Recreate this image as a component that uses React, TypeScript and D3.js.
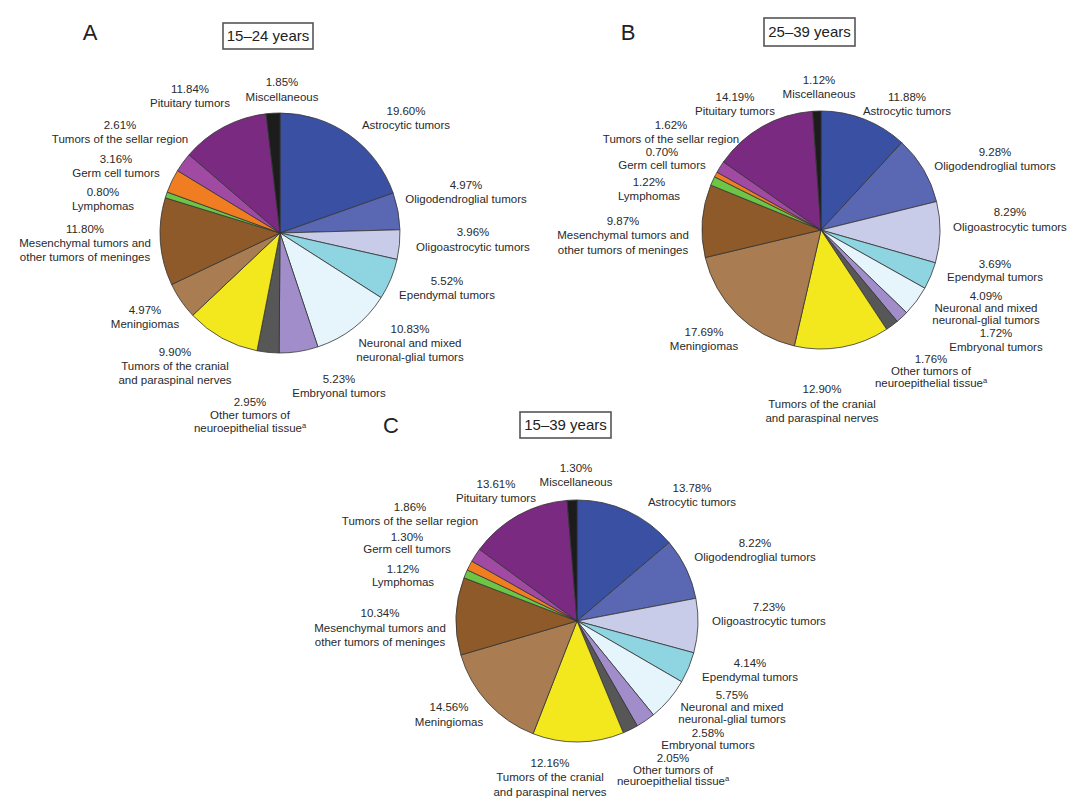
import React from "react";
import * as d3 from "d3";

// ---------- DATA ----------
const categories = [
  "Astrocytic tumors",
  "Oligodendroglial tumors",
  "Oligoastrocytic tumors",
  "Ependymal tumors",
  "Neuronal and mixed neuronal-glial tumors",
  "Embryonal tumors",
  "Other tumors of neuroepithelial tissue",
  "Tumors of the cranial and paraspinal nerves",
  "Meningiomas",
  "Mesenchymal tumors and other tumors of meninges",
  "Lymphomas",
  "Germ cell tumors",
  "Tumors of the sellar region",
  "Pituitary tumors",
  "Miscellaneous",
];

// label text lines per category (as printed under the percentage)
const labelLines: string[][] = [
  ["Astrocytic tumors"],
  ["Oligodendroglial tumors"],
  ["Oligoastrocytic tumors"],
  ["Ependymal tumors"],
  ["Neuronal and mixed", "neuronal-glial tumors"],
  ["Embryonal tumors"],
  ["Other tumors of", "neuroepithelial tissue^a"],
  ["Tumors of the cranial", "and paraspinal nerves"],
  ["Meningiomas"],
  ["Mesenchymal tumors and", "other tumors of meninges"],
  ["Lymphomas"],
  ["Germ cell tumors"],
  ["Tumors of the sellar region"],
  ["Pituitary tumors"],
  ["Miscellaneous"],
];

const values15to24 = [19.6, 4.97, 3.96, 5.52, 10.83, 5.23, 2.95, 9.9, 4.97, 11.8, 0.8, 3.16, 2.61, 11.84, 1.85];
const values25to39 = [11.88, 9.28, 8.29, 3.69, 4.09, 1.72, 1.76, 12.9, 17.69, 9.87, 1.22, 0.7, 1.62, 14.19, 1.12];
const values15to39 = [13.78, 8.22, 7.23, 4.14, 5.75, 2.58, 2.05, 12.16, 14.56, 10.34, 1.12, 1.3, 1.86, 13.61, 1.3];

const panelLetters = ["A", "B", "C"];
const panelTitles = ["15–24 years", "25–39 years", "15–39 years"];

// ---------- STYLE ----------
const colors = [
  "#3a50a3",
  "#5a67b2",
  "#c8cce9",
  "#8fd5e1",
  "#e6f4fb",
  "#a08dca",
  "#575757",
  "#f3e81e",
  "#a97d51",
  "#8e5a2a",
  "#6cc545",
  "#f07d22",
  "#a04aa3",
  "#7a2a81",
  "#1c1c1c",
];

// ---------- LAYOUT ----------
type Panel = {
  values: number[];
  cx: number;
  cy: number;
  r: number;
  letter: [number, number];
  box: [number, number, number, number];
  labels: [number, number, number][]; // x, y (first line centre), line gap
};

const panels: Panel[] = [
  {
    values: values15to24,
    cx: 280,
    cy: 233,
    r: 120,
    letter: [90, 32],
    box: [223, 23, 90, 26],
    labels: [
      [406, 111, 14],
      [466, 185, 14],
      [473, 232, 15],
      [447, 281, 14],
      [410, 329, 14],
      [339, 379, 14],
      [250, 402, 13],
      [175, 352, 14],
      [145, 310, 14],
      [85, 229, 14],
      [103, 192, 14],
      [116, 159, 14],
      [120, 125, 13.5],
      [190, 89, 14],
      [282, 82, 15],
    ],
  },
  {
    values: values25to39,
    cx: 821,
    cy: 230,
    r: 119,
    letter: [628, 32],
    box: [764, 18, 91, 28],
    labels: [
      [907, 97, 14],
      [995, 152, 14],
      [1010, 212, 15],
      [995, 264, 13],
      [986, 296, 12],
      [996, 333, 14],
      [931, 359, 12],
      [822, 389, 14.5],
      [704, 332, 14],
      [623, 221, 14.3],
      [649, 182, 14],
      [662, 152, 13],
      [671, 125, 13.5],
      [735, 97, 13.5],
      [819, 80, 14],
    ],
  },
  {
    values: values15to39,
    cx: 577,
    cy: 621,
    r: 121,
    letter: [391, 425],
    box: [520, 412, 91, 26],
    labels: [
      [692, 488, 14],
      [755, 543, 13.5],
      [769, 607, 13.5],
      [750, 663, 13.5],
      [732, 695, 12],
      [708, 733, 11.5],
      [673, 758, 11.5],
      [550, 763, 14.3],
      [449, 707, 15],
      [380, 613, 14.5],
      [403, 569, 13],
      [407, 537, 12],
      [410, 507, 13.5],
      [496, 484, 14.3],
      [576, 468, 14],
    ],
  },
];

const FONT = "'Liberation Sans', Arial, Helvetica, sans-serif";

function LabelLine({ text }: { text: string }) {
  if (text.endsWith("^a")) {
    return (
      <>
        {text.slice(0, -2)}
        <tspan fontSize="7.5" dy="-4">a</tspan>
      </>
    );
  }
  return <>{text}</>;
}

function PiePanel({ p }: { p: Panel }) {
  const pie = d3
    .pie<number>()
    .sort(null)
    .value((d) => d)
    .startAngle(0)
    .endAngle(2 * Math.PI);
  const arcs = pie(p.values);
  const arc = d3.arc<d3.PieArcDatum<number>>().innerRadius(0).outerRadius(p.r);
  const fmt = d3.format(".2f");

  return (
    <g>
      <text
        x={p.letter[0]}
        y={p.letter[1]}
        dy="0.36em"
        textAnchor="middle"
        fontSize="22"
        fill="#222"
      >
        {panelLetters[panels.indexOf(p)]}
      </text>
      <rect
        x={p.box[0]}
        y={p.box[1]}
        width={p.box[2]}
        height={p.box[3]}
        fill="#fff"
        stroke="#555"
        strokeWidth={1.6}
      />
      <text
        x={p.box[0] + p.box[2] / 2}
        y={p.box[1] + p.box[3] / 2}
        dy="0.36em"
        textAnchor="middle"
        fontSize="15"
        fill="#222"
      >
        {panelTitles[panels.indexOf(p)]}
      </text>
      <g transform={`translate(${p.cx},${p.cy})`}>
        {arcs.map((a, i) => (
          <path
            key={categories[i]}
            d={arc(a) || ""}
            fill={colors[i]}
            stroke="#333"
            strokeWidth={0.8}
            strokeLinejoin="round"
          />
        ))}
      </g>
      {arcs.map((a, i) => {
        const [lx, ly, gap] = p.labels[i];
        const lines = [fmt(a.data) + "%", ...labelLines[i]];
        return (
          <text
            key={"l" + categories[i]}
            textAnchor="middle"
            fontSize="11.5"
            fill="#2a2a2a"
          >
            {lines.map((ln, k) => (
              <tspan key={k} x={lx} y={ly + k * gap} dy="0.36em">
                <LabelLine text={ln} />
              </tspan>
            ))}
          </text>
        );
      })}
    </g>
  );
}

export default function App() {
  return (
    <svg
      width={1080}
      height={809}
      viewBox="0 0 1080 809"
      style={{ position: "absolute", left: 0, top: 0, background: "#fff" }}
      fontFamily={FONT}
    >
      <rect x={0} y={0} width={1080} height={809} fill="#fff" />
      {panels.map((p, i) => (
        <PiePanel key={panelTitles[i]} p={p} />
      ))}
    </svg>
  );
}
